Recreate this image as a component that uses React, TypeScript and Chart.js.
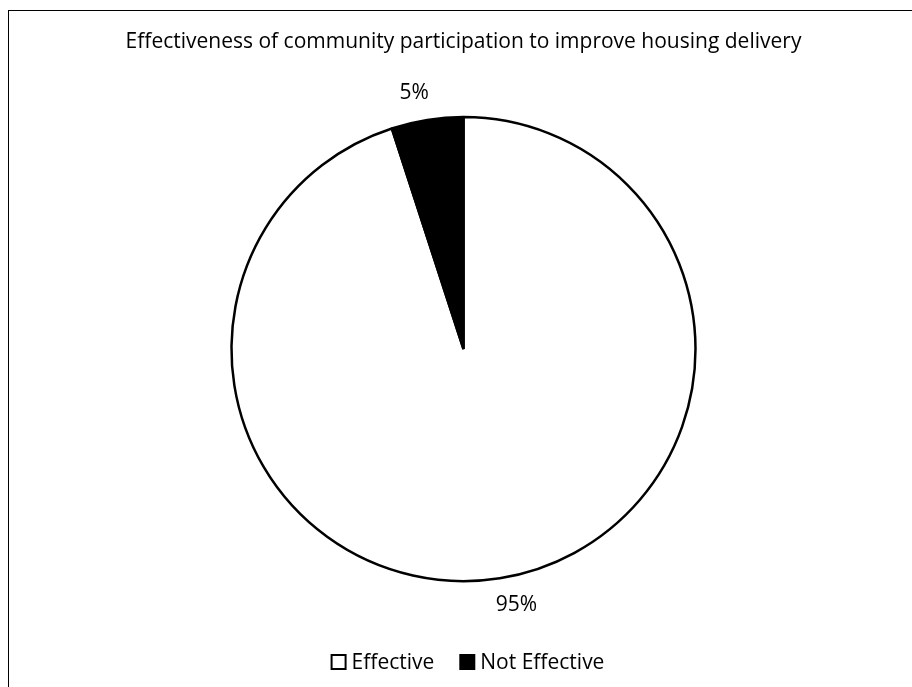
import React, { useEffect, useRef } from "react";
import { Chart, registerables } from "chart.js";

Chart.register(...registerables);

const TITLE = "Effectiveness of community participation to improve housing delivery";
const categories = ["Effective", "Not Effective"];
const values = [95, 5];
const percentLabels = ["95%", "5%"];
const fills = ["#ffffff", "#000000"];

const FONT = "'Open Sans', Lato, sans-serif";

const outsideLabels = {
  id: "outsideLabels",
  afterDatasetsDraw(chart: any) {
    const ctx = chart.ctx;
    const meta = chart.getDatasetMeta(0);
    ctx.save();
    ctx.font = `21px ${FONT}`;
    ctx.fillStyle = "#000";
    ctx.textAlign = "center";
    ctx.textBaseline = "middle";
    meta.data.forEach((arc: any, i: number) => {
      const p = arc.getProps(["x", "y", "startAngle", "endAngle", "outerRadius"], true);
      const mid = (p.startAngle + p.endAngle) / 2;
      const r = p.outerRadius + 27;
      const text = percentLabels[i];
      const w = ctx.measureText(text).width;
      const cx = p.x + Math.cos(mid) * r + Math.sign(Math.cos(mid)) * w * 0.3;
      const cy = p.y + Math.sin(mid) * r;
      ctx.fillText(text, cx, cy);
    });
    ctx.restore();
  },
};

const customLegend = {
  id: "customLegend",
  afterDraw(chart: any) {
    const ctx = chart.ctx;
    const area = chart.chartArea;
    ctx.save();
    ctx.font = `21px ${FONT}`;
    const box = 16;
    const gapText = 5;
    const gapItem = 25;
    const widths = categories.map((c) => ctx.measureText(c).width);
    const total =
      widths.reduce((s, w) => s + box + gapText + w, 0) + gapItem * (categories.length - 1);
    let x = (area.left + area.right) / 2 - total / 2 + 4;
    const y = area.bottom + 28;
    categories.forEach((c, i) => {
      ctx.fillStyle = fills[i];
      ctx.strokeStyle = "#000";
      ctx.lineWidth = 2;
      ctx.fillRect(x + 1, y - box / 2 + 1, box - 2, box - 2);
      ctx.strokeRect(x + 1, y - box / 2 + 1, box - 2, box - 2);
      ctx.fillStyle = "#000";
      ctx.textAlign = "left";
      ctx.textBaseline = "middle";
      ctx.fillText(c, x + box + gapText, y + 1);
      x += box + gapText + widths[i] + gapItem;
    });
    ctx.restore();
  },
};

export default function App() {
  const ref = useRef<HTMLCanvasElement | null>(null);

  useEffect(() => {
    if (!ref.current) return;
    const chart = new Chart(ref.current, {
      type: "pie",
      data: {
        labels: categories,
        datasets: [
          {
            data: values,
            backgroundColor: fills,
            borderColor: "#000000",
            borderWidth: 2.5,
          },
        ],
      },
      options: {
        responsive: false,
        animation: false,
        radius: 232,
        layout: { padding: { top: 0, bottom: 66, left: 0, right: 0 } },
        plugins: {
          legend: { display: false },
          tooltip: { enabled: false },
          title: {
            display: true,
            text: TITLE,
            color: "#000",
            font: { family: FONT, size: 21, weight: "normal" },
            lineHeight: 1.2,
            padding: { top: 19, bottom: 10 },
          },
        },
      } as any,
      plugins: [outsideLabels, customLegend],
    });
    return () => chart.destroy();
  }, []);

  return (
    <div style={{ position: "fixed", left: 0, top: 0, width: 912, height: 687, background: "#fff", overflow: "hidden" }}>
      <div
        style={{
          position: "absolute",
          left: 8,
          top: 10,
          width: 2000,
          height: 2000,
          borderLeft: "1px solid #000",
          borderTop: "1px solid #000",
        }}
      />
      <canvas
        ref={ref}
        width={911}
        height={690}
        style={{ position: "absolute", left: 8, top: 10, display: "block" }}
      />
    </div>
  );
}
